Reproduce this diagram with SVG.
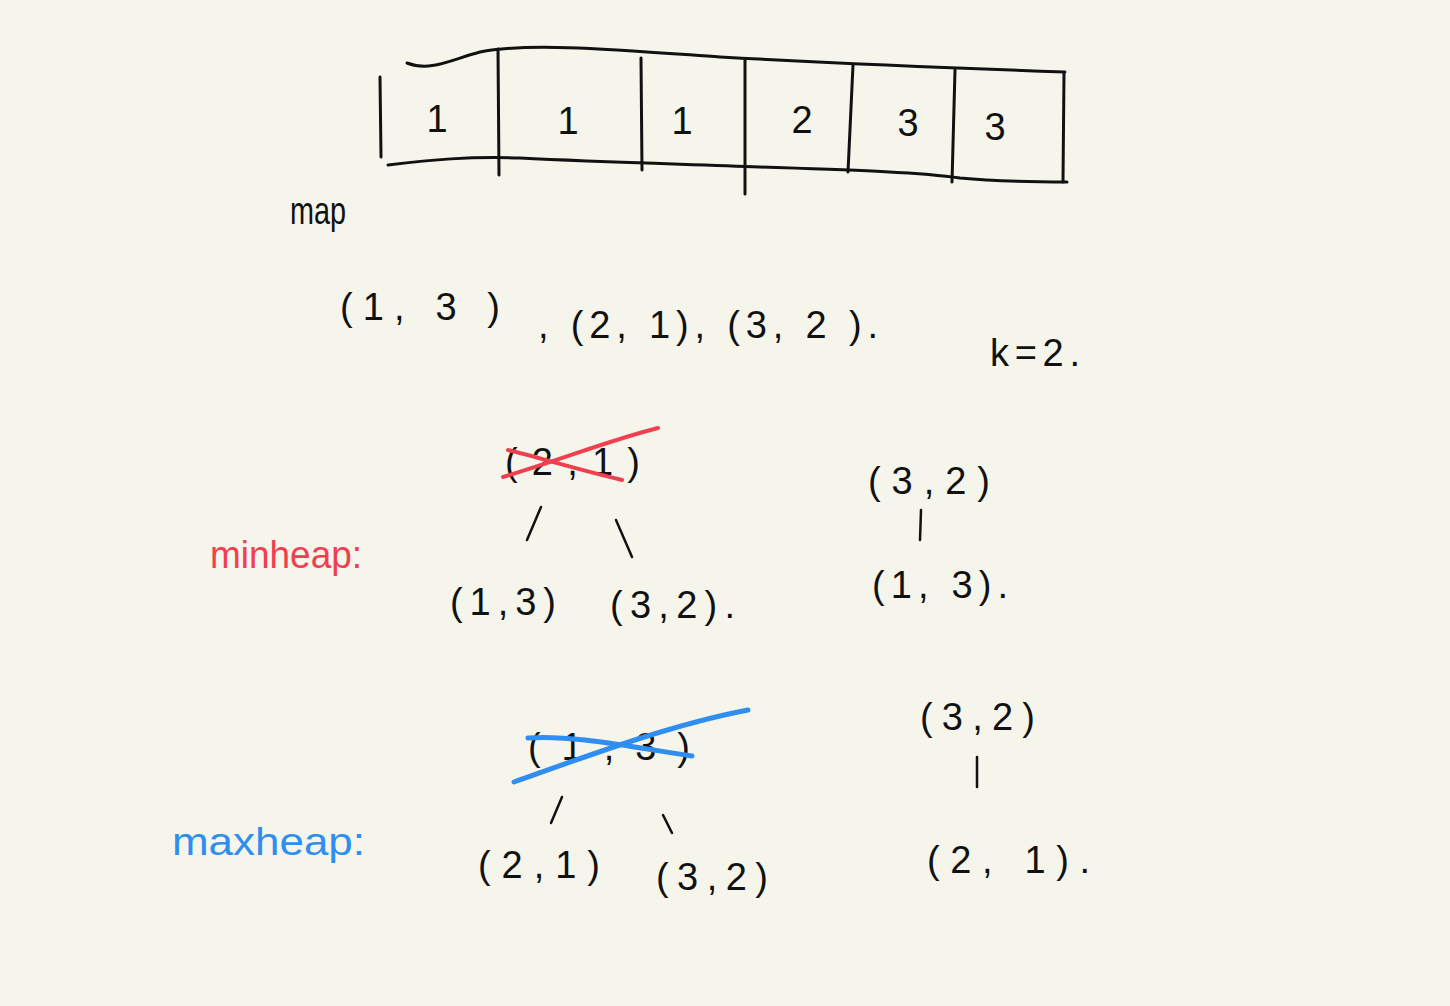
<svg xmlns="http://www.w3.org/2000/svg" width="1450" height="1006" viewBox="0 0 1450 1006">
<style>
.ink{fill:none;stroke:#111;stroke-width:3;stroke-linecap:round;stroke-linejoin:round}
.thin{fill:none;stroke:#111;stroke-width:2.5;stroke-linecap:round}
.t{font-family:"Liberation Sans","DejaVu Sans",sans-serif;font-size:38px;fill:#111}
.red{fill:#f0404f}
.blue{fill:#2f8ef0}
.rx{fill:none;stroke:#f0404f;stroke-width:4;stroke-linecap:round}
.bx{fill:none;stroke:#2f8ef0;stroke-width:5;stroke-linecap:round}
</style>
<rect width="1450" height="1006" fill="#f5f5ec"/>
<g id="array">
<path class="ink" d="M407,63 C430,72 450,60 480,52 C530,42 620,50 720,57 C850,64 950,68 1065,72"/>
<path class="ink" d="M388,165 C430,160 470,156 520,158 C600,162 680,164 760,167 C850,170 920,172 960,178 C1000,182 1040,182 1067,182"/>
<path class="ink" d="M380,77 L381,157"/>
<path class="ink" d="M498,49 L499,175"/>
<path class="ink" d="M641,58 L642,170"/>
<path class="ink" d="M745,60 L745,194"/>
<path class="ink" d="M853,65 L848,172"/>
<path class="ink" d="M955,70 L952,182"/>
<path class="ink" d="M1064,73 L1063,182"/>
</g>
<g id="array-values">
<text class="t" x="437" y="132" text-anchor="middle">1</text>
<text class="t" x="568" y="134" text-anchor="middle">1</text>
<text class="t" x="682" y="134" text-anchor="middle">1</text>
<text class="t" x="802" y="133" text-anchor="middle" font-size="32">2</text>
<text class="t" x="908" y="136" text-anchor="middle">3</text>
<text class="t" x="995" y="140" text-anchor="middle">3</text>
</g>
<g id="map-label"><text class="t" x="290" y="224" font-size="26" textLength="56" lengthAdjust="spacingAndGlyphs">map</text></g>
<g id="pairs">
<text class="t" x="340" y="320" textLength="160" lengthAdjust="spacing">(1, 3 )</text>
<text class="t" x="538" y="338" textLength="340" lengthAdjust="spacing">, (2, 1), (3, 2 ).</text>
</g>
<g id="k"><text class="t" x="990" y="366" textLength="90" lengthAdjust="spacing">k=2.</text></g>
<g id="minheap-label"><text class="t red" x="210" y="568" font-size="40" textLength="152" lengthAdjust="spacingAndGlyphs">minheap:</text></g>
<g id="min-root"><text class="t" x="505" y="475" textLength="135" lengthAdjust="spacing">(2,1)</text></g>
<g id="min-left"><text class="t" x="450" y="615" textLength="106" lengthAdjust="spacing">(1,3)</text></g>
<g id="min-right"><text class="t" x="610" y="618" textLength="125" lengthAdjust="spacing">(3,2).</text></g>
<g id="min-r-top"><text class="t" x="868" y="494" textLength="122" lengthAdjust="spacing">(3,2)</text></g>
<g id="min-r-bot"><text class="t" x="872" y="598" textLength="136" lengthAdjust="spacing">(1, 3).</text></g>
<g id="maxheap-label"><text class="t blue" x="172" y="855" font-size="40" textLength="193" lengthAdjust="spacingAndGlyphs">maxheap:</text></g>
<g id="max-root"><text class="t" x="528" y="760" textLength="162" lengthAdjust="spacing">(1,3)</text></g>
<g id="max-left"><text class="t" x="478" y="878" textLength="122" lengthAdjust="spacing">(2,1)</text></g>
<g id="max-right"><text class="t" x="656" y="890" textLength="112" lengthAdjust="spacing">(3,2)</text></g>
<g id="max-r-top"><text class="t" x="920" y="730" textLength="115" lengthAdjust="spacing">(3,2)</text></g>
<g id="max-r-bot"><text class="t" x="927" y="873" textLength="163" lengthAdjust="spacing">(2, 1).</text></g>
<g id="connectors">
<path class="thin" d="M527,540 L541,507"/>
<path class="thin" d="M616,520 L632,557"/>
<path class="thin" d="M921,510 L920,540"/>
<path class="thin" d="M551,823 L562,797"/>
<path class="thin" d="M663,815 L672,833"/>
<path class="thin" d="M977,757 L977,787"/>
<path class="rx" d="M503,477 C560,460 610,440 658,428"/>
<path class="rx" d="M508,450 C540,458 580,470 622,480"/>
<path class="bx" d="M514,782 C590,755 670,725 748,710"/>
<path class="bx" d="M528,738 C570,735 620,745 692,756"/>
</g>
</svg>
